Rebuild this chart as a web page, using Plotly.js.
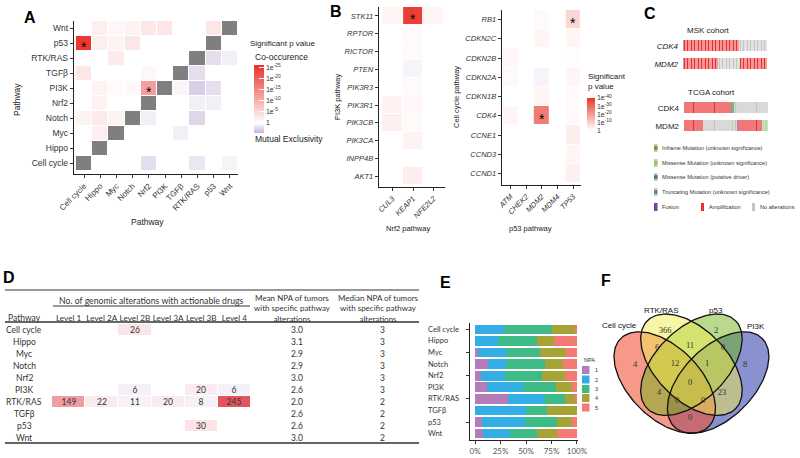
<!DOCTYPE html>
<html>
<head>
<meta charset="utf-8">
<script src="https://cdn.plot.ly/plotly-3.0.1.min.js"></script>
<style>
  html, body { margin: 0; padding: 0; background: #fff; }
  #fig { width: 800px; height: 458px; }
</style>
</head>
<body>
<div id="fig"></div>
<script>
const W = 800, H = 458;
const px = x => x / W;
const py = y => 1 - y / H;
const dom = (a, b) => [a / W, b / W];
const domY = (top, bottom) => [1 - bottom / H, 1 - top / H];

const SANS = 'Liberation Sans, Arial, sans-serif';
const CALIBRI = 'Lato, Liberation Sans, sans-serif';

// --- A: pathway co-occurrence (signed -log10 p; + co-occurrence, - exclusivity) ---
const pathways = ['Cell cycle', 'Hippo', 'Myc', 'Notch', 'Nrf2', 'PI3K', 'TGFβ', 'RTK/RAS', 'p53', 'Wnt'];
const coocZ = [
  [null, null, null, null, -2, null, null, -1.5, null, -0.7],   // Cell cycle
  [null, null, null, null, null, null, null, null, null, null], // Hippo
  [null, 2, null, null, null, null, -1, null, null, null],      // Myc
  [1.5, 2.5, 1.5, null, -1, null, null, -2.5, null, null],      // Notch
  [null, 1.5, null, null, null, null, null, -1, -1, null],      // Nrf2
  [null, 1.5, 0.5, 0.7, 12, null, -0.5, -3, -2, null],          // PI3K
  [3, null, null, null, 1, null, null, -2, null, null],         // TGFβ
  [null, null, 2.5, null, null, null, null, null, -2, -1],      // RTK/RAS
  [25, 2, 1.5, 3, null, null, null, null, null, null],          // p53
  [null, 2, 1, 1.5, 3, 3, null, null, 3, null],                 // Wnt
];
const coocStars = [['Cell cycle', 'p53'], ['Nrf2', 'PI3K']];

// --- B: gene-level co-occurrence ---
const nrf2Genes = ['CUL3', 'KEAP1', 'NFE2L2'];
const pi3kGenes = ['STK11', 'RPTOR', 'RICTOR', 'PTEN', 'PIK3R3', 'PIK3R1', 'PIK3CB', 'PIK3CA', 'INPP4B', 'AKT1'];
const pi3kNrf2Z = [
  [2, 38, 2], [null, 1, null], [null, 1, null], [null, -0.5, null], [null, 1, null],
  [2.5, 1.5, null], [3, 1, null], [null, 2.5, null], [null, null, null], [null, 3.5, null],
];
const p53Genes = ['ATM', 'CHEK2', 'MDM2', 'MDM4', 'TP53'];
const cellCycleGenes = ['RB1', 'CDKN2C', 'CDKN2B', 'CDKN2A', 'CDKN1B', 'CDK4', 'CCNE1', 'CCND3', 'CCND1'];
const cellCycleP53Z = [
  [null, null, 1, null, 8],
  [null, null, 2, null, 2],
  [1.5, null, null, null, 0.5],
  [1, null, -0.5, null, 2],
  [null, null, 2, null, 1],
  [2, null, 26, null, 1],
  [null, null, null, null, 3.5],
  [null, null, null, null, 2],
  [null, null, null, null, 3],
];

// --- C: oncoprint, run-length per gene ---
const mskCdk4Runs = [['fusion', 1], ['amp', 39], ['none', 20]];
const mskMdm2Runs = [['fusion', 1], ['amp', 24], ['none', 15], ['misU', 1], ['amp', 19]];
const tcgaCdk4Runs = [['amp', 45], ['misP', 3], ['none', 32]];
const tcgaMdm2Runs = [['amp', 18], ['none', 28], ['misU', 1], ['none', 3], ['fusion', 1], ['amp', 23],
                      ['none', 1], ['misU', 1], ['none', 1], ['misU', 2], ['none', 1]];
const altCode = { none: 0, amp: 1, fusion: 2, misU: 3, misP: 4 };
const altLegend = ['Inframe Mutation (unknown significance)', 'Missense Mutation (unknown significance)',
                   'Missense Mutation (putative driver)', 'Truncating Mutation (unknown significance)', 'Fusion'];
const altLegendColors = ['#a67a2e', '#80d35c', '#2f8a46', '#6b7b8c', '#7a3fa3'];

// --- D: actionable alterations table ---
const tablePathways = ['Cell cycle', 'Hippo', 'Myc', 'Notch', 'Nrf2', 'PI3K', 'RTK/RAS', 'TGFβ', 'p53', 'Wnt'];
const levels = ['Level 1', 'Level 2A', 'Level 2B', 'Level 3A', 'Level 3B', 'Level 4'];
const actionable = [
  [null, null, 26, null, null, null],
  [null, null, null, null, null, null],
  [null, null, null, null, null, null],
  [null, null, null, null, null, null],
  [null, null, null, null, null, null],
  [null, null, 6, null, 20, 6],
  [149, 22, 11, 20, 8, 245],
  [null, null, null, null, null, null],
  [null, null, null, null, 30, null],
  [null, null, null, null, null, null],
];
const meanNPA = [3.0, 3.1, 2.9, 2.9, 3.0, 2.6, 2.0, 2.6, 2.6, 3.0];
const medianNPA = [3, 3, 3, 3, 3, 3, 2, 2, 2, 2];

// --- E: NPA distribution (% of tumors), same row order as table ---
const npaLevels = ['1', '2', '3', '4', '5'];
const npaColors = ['#b47cb8', '#33ade6', '#3dba85', '#a6a437', '#f47a73'];
const npa1 = [0, 0, 2.6, 13, 6, 11.5, 32, 0, 7, 8];
const npa2 = [28, 22.5, 28, 17.5, 23, 35.5, 36, 50, 41.5, 26];
const npa3 = [47, 38, 33, 38.5, 36.5, 32, 20.5, 20.5, 31.5, 26.5];
const npa4 = [23, 16.5, 26, 17.5, 22.5, 16, 10, 29.5, 15.5, 19.5];
const npa5 = [2, 23, 10.4, 13.5, 12, 5, 1.5, 0, 4.5, 20];
const pctTicks = [0, 25, 50, 75, 100];

// --- F: Venn ---
const vennSets = ['Cell cycle', 'RTK/RAS', 'p53', 'PI3K'];
const vennCounts = [4, 366, 2, 8, 6, 11, 0, 12, 1, 0, 4, 0, 0, 23, 0];

// ---------- traces ----------
const traces = [];

traces.push({
  type: 'heatmap', x: pathways, y: pathways, z: coocZ, coloraxis: 'coloraxis',
  xgap: 1, ygap: 1, hoverinfo: 'skip',
});
traces.push({
  type: 'heatmap', x: pathways, y: pathways,
  z: pathways.map((r, i) => pathways.map((c, j) => (i === j ? 1 : null))),
  colorscale: [[0, '#7f7f7f'], [1, '#7f7f7f']], showscale: false, xgap: 1, ygap: 1, hoverinfo: 'skip',
});
traces.push({
  type: 'heatmap', x: nrf2Genes, y: pi3kGenes, z: pi3kNrf2Z, coloraxis: 'coloraxis2',
  xaxis: 'x2', yaxis: 'y2', xgap: 1, ygap: 1, hoverinfo: 'skip',
});
traces.push({
  type: 'heatmap', x: p53Genes, y: cellCycleGenes, z: cellCycleP53Z, coloraxis: 'coloraxis2',
  xaxis: 'x3', yaxis: 'y3', xgap: 1, ygap: 1, hoverinfo: 'skip',
});

const expand = runs => runs.flatMap(([k, n]) => Array(n).fill(altCode[k]));
const oncoScale = [
  [0, '#c4c4c4'], [0.2, '#c4c4c4'], [0.2, '#ea2f2f'], [0.4, '#ea2f2f'],
  [0.4, '#7a3fa3'], [0.6, '#7a3fa3'], [0.6, '#80d35c'], [0.8, '#80d35c'], [0.8, '#2f8a46'], [1, '#2f8a46'],
];
[[mskCdk4Runs, mskMdm2Runs, 'x4', 'y4', 0.5], [tcgaCdk4Runs, tcgaMdm2Runs, 'x5', 'y5', 0.35]].forEach(([a, b, xa, ya, gap]) => {
  const rows = [expand(a), expand(b)];
  traces.push({
    type: 'heatmap', z: rows, x: rows[0].map((_, i) => i), y: ['CDK4', 'MDM2'],
    colorscale: oncoScale, zmin: 0, zmax: 4, showscale: false,
    xaxis: xa, yaxis: ya, xgap: gap, ygap: 7, hoverinfo: 'skip',
  });
});

traces.push({
  type: 'heatmap', x: levels, y: tablePathways, z: actionable, coloraxis: 'coloraxis3',
  text: actionable.map(r => r.map(v => (v == null ? '' : String(v)))),
  texttemplate: '%{text}', textfont: { family: CALIBRI, size: 8.5, color: '#333' },
  xaxis: 'x6', yaxis: 'y6', xgap: 1, ygap: 1, hoverinfo: 'skip',
});

[npa1, npa2, npa3, npa4, npa5].forEach((vals, i) => {
  traces.push({
    type: 'bar', orientation: 'h', x: vals, y: tablePathways, name: npaLevels[i],
    marker: { color: npaColors[i], line: { width: 0 } }, xaxis: 'x7', yaxis: 'y7', hoverinfo: 'skip',
  });
});

// Venn ellipses (unit-square geometry, mapped onto pixel-scaled axes)
const vennGeom = [
  { cx: 0.35, cy: 0.47, rot: -45, fill: 'rgba(240,80,50,0.58)' },
  { cx: 0.5, cy: 0.57, rot: -45, fill: 'rgba(242,236,80,0.5)' },
  { cx: 0.5, cy: 0.57, rot: 45, fill: 'rgba(115,180,30,0.5)' },
  { cx: 0.65, cy: 0.47, rot: 45, fill: 'rgba(40,55,170,0.55)' },
];
const toPx = (u, v) => [614 + (u - 0.065) * 178, 314 + (0.855 - v) * 178];
function ellipse(g) {
  const xs = [], ys = [], th = g.rot * Math.PI / 180;
  for (let k = 0; k <= 160; k++) {
    const t = 2 * Math.PI * k / 160;
    const u = g.cx + 0.35 * Math.cos(t) * Math.cos(th) - 0.2 * Math.sin(t) * Math.sin(th);
    const v = g.cy + 0.35 * Math.cos(t) * Math.sin(th) + 0.2 * Math.sin(t) * Math.cos(th);
    const p = toPx(u, v);
    xs.push(p[0]); ys.push(p[1]);
  }
  return { xs, ys };
}
// fill order bottom -> top: PI3K, Cell cycle, p53, RTK/RAS
[3, 0, 2, 1].forEach(i => {
  const e = ellipse(vennGeom[i]);
  traces.push({
    type: 'scatter', mode: 'lines', x: e.xs, y: e.ys, fill: 'toself', fillcolor: vennGeom[i].fill,
    line: { color: 'rgba(0,0,0,0)', width: 0 }, xaxis: 'x8', yaxis: 'y8', hoverinfo: 'skip', name: vennSets[i],
  });
});
[0, 1, 2, 3].forEach(i => {
  const e = ellipse(vennGeom[i]);
  traces.push({
    type: 'scatter', mode: 'lines', x: e.xs, y: e.ys, line: { color: '#111', width: 1.3 },
    xaxis: 'x8', yaxis: 'y8', hoverinfo: 'skip',
  });
});
const vennCountPos = [[635, 365], [665, 331], [716, 331], [745, 365], [657, 348], [690, 346], [723, 348],
  [675, 364], [707, 364], [690, 383], [659, 393], [677, 401], [703, 401], [722, 393], [690, 418]];
traces.push({
  type: 'scatter', mode: 'text', x: vennCountPos.map(p => p[0]), y: vennCountPos.map(p => p[1]),
  text: vennCounts.map(String), textfont: { family: 'Liberation Serif, serif', size: 8.5, color: '#333' },
  xaxis: 'x8', yaxis: 'y8', hoverinfo: 'skip',
});

// ---------- annotations & shapes ----------
const ann = [];
const note = (text, x, y, o = {}) => ann.push(Object.assign({
  text, x: px(x), y: py(y), xref: 'paper', yref: 'paper', showarrow: false,
  xanchor: 'center', yanchor: 'middle', font: { family: SANS, size: 8, color: '#222' },
}, o));

[['A', 30, 17], ['B', 336, 12], ['C', 650, 14], ['D', 9, 277], ['E', 445, 282], ['F', 606, 280]]
  .forEach(([t, x, y]) => note('<b>' + t + '</b>', x, y, { font: { family: SANS, size: 16, color: '#000' } }));

// A
note('Pathway', 147, 222, { font: { family: SANS, size: 8.5, color: '#222' } });
note('Pathway', 17, 100, { textangle: -90, font: { family: SANS, size: 8.5, color: '#222' } });
note('Significant p value', 248, 43, { xanchor: 'left', font: { family: SANS, size: 8, color: '#222' } });
note('Co-occurence', 253, 57, { xanchor: 'left', font: { family: SANS, size: 8.5, color: '#222' } });
note('Mutual Exclusivity', 253, 139, { xanchor: 'left', font: { family: SANS, size: 8.5, color: '#222' } });
const star = (x, y, xr, yr) => ann.push({ text: '*', x, y, xref: xr, yref: yr, showarrow: false,
  yshift: -3, font: { family: SANS, size: 14, color: '#000' } });
coocStars.forEach(([c, r]) => star(pathways.indexOf(c), pathways.indexOf(r), 'x', 'y'));

// B
star(nrf2Genes.indexOf('KEAP1'), pi3kGenes.indexOf('STK11'), 'x2', 'y2');
star(p53Genes.indexOf('MDM2'), cellCycleGenes.indexOf('CDK4'), 'x3', 'y3');
star(p53Genes.indexOf('TP53'), cellCycleGenes.indexOf('RB1'), 'x3', 'y3');
note('PI3K pathway', 337, 97, { textangle: -90, font: { family: SANS, size: 7.5, color: '#222' } });
note('Nrf2 pathway', 408, 228, { font: { family: SANS, size: 7.5, color: '#222' } });
note('Cell cycle pathway', 456, 97, { textangle: -90, font: { family: SANS, size: 7.5, color: '#222' } });
note('p53 pathway', 530, 228, { font: { family: SANS, size: 7.5, color: '#222' } });
note('Significant<br>p value', 586, 82, { xanchor: 'left', align: 'left', font: { family: SANS, size: 8, color: '#222' } });

// C
note('MSK cohort', 708, 31);
note('TCGA cohort', 711, 93);
const shapes = [];
const rect = (x0, y0, x1, y1, color, o = {}) => shapes.push(Object.assign({
  type: 'rect', xref: 'paper', yref: 'paper', x0: px(x0), x1: px(x1), y0: py(y0), y1: py(y1),
  fillcolor: color, line: { width: 0 },
}, o));
const legY = [148, 163, 177, 192, 207];
altLegend.forEach((lab, i) => {
  if (i < 4) {
    rect(654, legY[i] - 4, 657.5, legY[i] + 4, '#c4c4c4');
    rect(654, legY[i] - 1.8, 657.5, legY[i] + 1.8, altLegendColors[i]);
  } else {
    rect(654, legY[i] - 4, 657.5, legY[i] + 4, altLegendColors[i]);
  }
  note(lab, 660, legY[i], { xanchor: 'left', font: { family: SANS, size: 5.6, color: '#333' } });
});
rect(701, 203, 704, 211, '#ea2f2f');
note('Amplification', 707, 207, { xanchor: 'left', font: { family: SANS, size: 5.6, color: '#333' } });
rect(752, 203, 755, 211, '#c4c4c4');
note('No alterations', 758, 207, { xanchor: 'left', font: { family: SANS, size: 5.6, color: '#333' } });

// D
const line = (x0, y, x1, w) => shapes.push({ type: 'line', xref: 'paper', yref: 'paper',
  x0: px(x0), x1: px(x1), y0: py(y), y1: py(y), line: { color: '#333', width: w } });
line(5, 290, 419, 1.2);
line(53, 306, 250, 1);
line(5, 322, 419, 1.6);
line(5, 443, 419, 1.6);
const tf = { family: CALIBRI, size: 8.5, color: '#333' };
note('No. of genomic alterations with actionable drugs', 151, 300, { font: { family: CALIBRI, size: 8.7, color: '#333' } });
note('Pathway', 24, 318, { font: tf });
note('Mean NPA of tumors<br>with specific pathway<br>alterations', 292, 308, { font: { family: CALIBRI, size: 8, color: '#333' } });
note('Median NPA of tumors<br>with specific pathway<br>alterations', 378, 308, { font: { family: CALIBRI, size: 8, color: '#333' } });
tablePathways.forEach((p, i) => {
  const base = { y: i, yref: 'y6', xref: 'paper', showarrow: false, font: tf, yanchor: 'middle' };
  ann.push(Object.assign({ text: p, x: px(24), xanchor: 'center' }, base));
  ann.push(Object.assign({ text: meanNPA[i].toFixed(1), x: px(297), xanchor: 'center' }, base));
  ann.push(Object.assign({ text: String(medianNPA[i]), x: px(382), xanchor: 'center' }, base));
  ann.push(Object.assign({}, base, { text: p, x: px(426), xanchor: 'left', yref: 'y7',
    font: { family: CALIBRI, size: 7.5, color: '#333' } }));
});

// E legend
note('NPA', 582, 360, { xanchor: 'left', font: { family: SANS, size: 5.5, color: '#333' } });
const npaY = [370, 379.5, 389, 398, 407.5];
npaLevels.forEach((l, i) => {
  rect(582, npaY[i] - 4, 589.5, npaY[i] + 4, npaColors[i]);
  note(l, 593, npaY[i], { xanchor: 'left', font: { family: SANS, size: 5.5, color: '#333' } });
});

// F labels
[['Cell cycle', 619, 325], ['RTK/RAS', 661, 310], ['p53', 716, 310], ['PI3K', 756, 326]]
  .forEach(([t, x, y]) => note(t, x, y, { font: { family: SANS, size: 8, color: '#111' } }));

// ---------- layout ----------
const axBase = {
  showgrid: false, zeroline: false, showline: true, linecolor: '#222', linewidth: 1.3,
  ticks: 'outside', ticklen: 3, tickcolor: '#333', fixedrange: true,
};
const hidden = { visible: false, fixedrange: true };

const layout = {
  width: W, height: H, margin: { l: 0, r: 0, t: 0, b: 0 },
  paper_bgcolor: '#fff', plot_bgcolor: 'rgba(0,0,0,0)',
  font: { family: SANS, size: 8, color: '#222' },
  showlegend: false, hovermode: false, barmode: 'stack', bargap: 0.16,
  xaxis: { ...axBase, domain: dom(74, 238), anchor: 'y', range: [-0.62, 9.5], tickangle: -45,
           tickfont: { size: 8, color: '#333' } },
  yaxis: { ...axBase, domain: domY(21, 174), anchor: 'x', range: [-0.7, 9.5], tickfont: { size: 8.5, color: '#333' } },
  xaxis2: { ...axBase, domain: dom(379, 445), anchor: 'y2', range: [-0.65, 2.55], tickangle: -45,
            tickfont: { size: 7.5, style: 'italic', color: '#333' } },
  yaxis2: { ...axBase, domain: domY(7, 187), anchor: 'x2', range: [9.6, -0.5],
            tickfont: { size: 7.5, style: 'italic', color: '#333' } },
  xaxis3: { ...axBase, domain: dom(502, 581), anchor: 'y3', range: [-0.55, 4.5], tickangle: -45,
            tickfont: { size: 7.5, style: 'italic', color: '#333' } },
  yaxis3: { ...axBase, domain: domY(10, 185), anchor: 'x3', range: [8.6, -0.5],
            tickfont: { size: 7.5, style: 'italic', color: '#333' } },
  xaxis4: { ...hidden, domain: dom(683, 767), anchor: 'y4', range: [-0.5, 59.5] },
  yaxis4: { domain: domY(37, 73), anchor: 'x4', range: [1.5, -0.5], showgrid: false, zeroline: false,
            showline: false, ticks: '', ticklabelstandoff: 4, fixedrange: true,
            tickfont: { size: 8, style: 'italic', color: '#222' } },
  xaxis5: { ...hidden, domain: dom(684, 768), anchor: 'y5', range: [-0.5, 79.5] },
  yaxis5: { domain: domY(99, 135), anchor: 'x5', range: [1.5, -0.5], showgrid: false, zeroline: false,
            showline: false, ticks: '', ticklabelstandoff: 4, fixedrange: true,
            tickfont: { size: 8, color: '#222' } },
  xaxis6: { domain: dom(52, 251), anchor: 'y6', range: [-0.5, 5.5], side: 'top', showgrid: false,
            zeroline: false, showline: false, ticks: '', tickangle: 0, fixedrange: true,
            tickfont: { family: CALIBRI, size: 8.2, color: '#333' } },
  yaxis6: { ...hidden, domain: domY(324, 444), anchor: 'x6', range: [9.5, -0.5], type: 'category' },
  xaxis7: { ...axBase, linewidth: 1, domain: dom(470, 578), anchor: 'y7', range: [-5, 101],
            tickvals: pctTicks, ticktext: pctTicks.map(v => v + '%'), tickangle: 0,
            tickfont: { family: CALIBRI, size: 8, color: '#555' } },
  yaxis7: { ...axBase, linewidth: 1, domain: domY(323, 440), anchor: 'x7', range: [9.55, -0.55],
            showticklabels: false, type: 'category' },
  xaxis8: { ...hidden, domain: dom(605, 790), anchor: 'y8', range: [605, 790] },
  yaxis8: { ...hidden, domain: domY(300, 450), anchor: 'x8', range: [450, 300] },
  coloraxis: {
    cmin: -4.5, cmax: 26,
    colorscale: [[0, '#c5b5da'], [4.5 / 30.5, '#ffffff'], [1, '#e8302a']],
    colorbar: {
      x: px(254), xanchor: 'left', y: py(65), yanchor: 'top', len: 68, lenmode: 'pixels',
      thickness: 10, outlinewidth: 0, xpad: 0, ypad: 0,
      ticks: 'inside', ticklen: 5, tickcolor: 'rgba(255,255,255,0.9)',
      tickvals: [25, 20, 15, 10, 5, 0],
      ticktext: ['1e<sup>-25</sup>', '1e<sup>-20</sup>', '1e<sup>-15</sup>', '1e<sup>-10</sup>', '1e<sup>-5</sup>', '1'],
      tickfont: { size: 7, color: '#333' },
    },
  },
  coloraxis2: {
    cmin: -1, cmax: 40,
    colorscale: [[0, '#ece8f4'], [1 / 41, '#ffffff'], [1, '#e8352a']],
    colorbar: {
      x: px(587), xanchor: 'left', y: py(98), yanchor: 'top', len: 33, lenmode: 'pixels',
      thickness: 8, outlinewidth: 0, xpad: 0, ypad: 0, ticks: '',
      tickvals: [40, 30, 20, 10, 0],
      ticktext: ['1e<sup>-40</sup>', '1e<sup>-30</sup>', '1e<sup>-20</sup>', '1e<sup>-10</sup>', '1'],
      tickfont: { size: 7, color: '#333' },
    },
  },
  coloraxis3: {
    cmin: 0, cmax: 245, showscale: false,
    colorscale: [[0, '#efeefa'], [0.05, '#f8f2f6'], [0.12, '#fbe3e6'], [0.6, '#ef9ea4'], [1, '#e4535b']],
  },
  annotations: ann,
  shapes,
};

Plotly.newPlot('fig', traces, layout, { staticPlot: true, displayModeBar: false });
</script>
</body>
</html>
